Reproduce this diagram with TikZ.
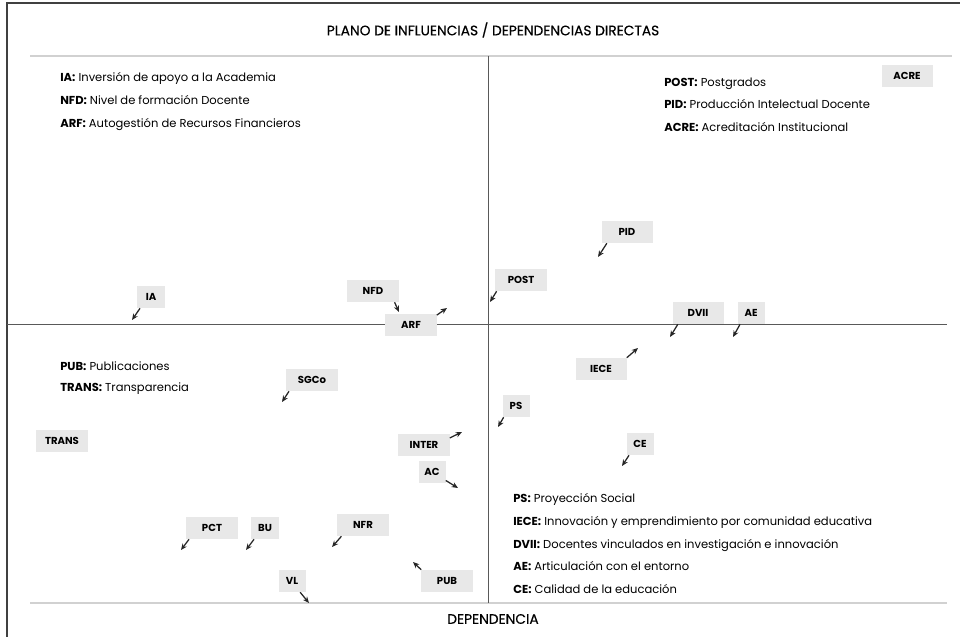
\documentclass[tikz,border=0pt]{standalone}
\usepackage{fontspec}
\setmainfont{Poppins}
\newfontfamily\medio{Poppins}[FakeBold=0.4]
\usetikzlibrary{arrows.meta}

\begin{document}
\begin{tikzpicture}[x=0.025cm,y=-0.025cm,>={Stealth[length=4.5pt,width=3.8pt]},
etiq/.style={rectangle,fill=black!9,inner sep=0pt,minimum width=1.275cm,minimum height=0.55cm,font=\fontsize{7.2}{8}\selectfont\bfseries},
etiqc/.style={etiq,minimum width=0.675cm},
leyenda/.style={anchor=base west,inner sep=0pt,font=\fontsize{8.2}{10}\selectfont},
titulo/.style={inner sep=0pt,font=\fontsize{9.8}{11}\medio},
flecha/.style={->,draw=black!85,line width=0.9pt},
]
\useasboundingbox (0,0) rectangle (960,637);
% marco y ejes
\draw[black!75,line width=0.8pt] (7,637)--(7,3)--(960,3);
\draw[black!18,line width=1.3pt] (30,56)--(952,56);
\draw[black!18,line width=1.3pt] (30,603)--(947,603);
\draw[black!65,line width=0.6pt] (488,56)--(488,603);
\draw[black!65,line width=0.6pt] (7,324)--(947,324);
\node[titulo](tit) at (493,30){PLANO DE INFLUENCIAS / DEPENDENCIAS DIRECTAS};
\node[titulo](dep) at (493,619){DEPENDENCIA};
% leyendas
\node[leyenda](l-ia) at (60,82){\textbf{IA:} Inversión de apoyo a la Academia};
\node[leyenda](l-nfd) at (60,105){\textbf{NFD:} Nivel de formación Docente};
\node[leyenda](l-arf) at (60,128){\textbf{ARF:} Autogestión de Recursos Financieros};
\node[leyenda](l-post) at (664,87){\textbf{POST:} Postgrados};
\node[leyenda](l-pid) at (664,109){\textbf{PID:} Producción Intelectual Docente};
\node[leyenda](l-acre) at (664,131){\textbf{ACRE:} Acreditación Institucional};
\node[leyenda](l-pub) at (60,370){\textbf{PUB:} Publicaciones};
\node[leyenda](l-trans) at (60,391){\textbf{TRANS:} Transparencia};
\node[leyenda](l-ps) at (513,502){\textbf{PS:} Proyección Social};
\node[leyenda](l-iece) at (513,525){\textbf{IECE:} Innovación y emprendimiento por comunidad educativa};
\node[leyenda](l-dvii) at (513,548){\textbf{DVII:} Docentes vinculados en investigación e innovación};
\node[leyenda](l-ae) at (513,570){\textbf{AE:} Articulación con el entorno};
\node[leyenda](l-ce) at (513,593){\textbf{CE:} Calidad de la educación};
% variables
\node[etiq](acre) at (907,76){ACRE};
\node[etiq](pid) at (627,232){PID};
\node[etiq](post) at (521,280){POST};
\node[etiq](dvii) at (698,313){DVII};
\node[etiqc](ae) at (751,313){AE};
\node[etiqc](ia) at (151,297){IA};
\node[etiq](nfd) at (373,291){NFD};
\node[etiq](arf) at (411,325){ARF};
\node[etiq](iece) at (601,369){IECE};
\node[etiq](sgco) at (312,380){SGCo};
\node[etiq](trans) at (62,441){TRANS};
\node[etiq](inter) at (424,445){INTER};
\node[etiqc](ac) at (432,472){AC};
\node[etiqc](ps) at (516,406){PS};
\node[etiqc](ce) at (640,444){CE};
\node[etiq](pct) at (212,528){PCT};
\node[etiqc](bu) at (265,528){BU};
\node[etiq](nfr) at (363,525){NFR};
\node[etiqc](vl) at (292,581){VL};
\node[etiq](pub) at (447,581){PUB};
% puntas
\coordinate(pid-p) at (598,257);
\coordinate(post-p) at (490,302);
\coordinate(dvii-p) at (670,337);
\coordinate(ae-p) at (733,337);
\coordinate(ia-p) at (132,320);
\coordinate(nfd-p) at (399,312);
\coordinate(arf-p) at (447,308);
\coordinate(iece-p) at (638,348);
\coordinate(sgco-p) at (282,402);
\coordinate(inter-p) at (462,432);
\coordinate(ac-p) at (458,488);
\coordinate(ps-p) at (498,427);
\coordinate(ce-p) at (622,466);
\coordinate(pct-p) at (181,550);
\coordinate(bu-p) at (246,550);
\coordinate(nfr-p) at (332,547);
\coordinate(vl-p) at (309,603);
\coordinate(pub-p) at (413,562);
\begin{scope}[flecha]
 \draw ([xshift=4pt]pid.south west)--(pid-p);
 \draw ([xshift=1pt]post.south west)--(post-p);
 \draw ([xshift=4pt]dvii.south west)--(dvii-p);
 \draw ([xshift=2pt]ae.south west)--(ae-p);
 \draw ([xshift=2pt]ia.south west)--(ia-p);
 \draw ([xshift=-3pt]nfd.south east)--(nfd-p);
 \draw ([yshift=-1pt]arf.north east)--(arf-p);
 \draw (iece.north east)--(iece-p);
 \draw ([xshift=2pt]sgco.south west)--(sgco-p);
 \draw ([yshift=-3pt]inter.north east)--(inter-p);
 \draw ([yshift=2pt]ac.south east)--(ac-p);
 \draw ([xshift=1pt]ps.south west)--(ps-p);
 \draw ([xshift=2pt]ce.south west)--(ce-p);
 \draw ([xshift=2pt]pct.south west)--(pct-p);
 \draw ([xshift=2pt]bu.south west)--(bu-p);
 \draw ([xshift=3pt]nfr.south west)--(nfr-p);
 \draw ([xshift=-4pt]vl.south east)--(vl-p);
 \draw (pub.north west)--(pub-p);
\end{scope}
\end{tikzpicture}
\end{document}
